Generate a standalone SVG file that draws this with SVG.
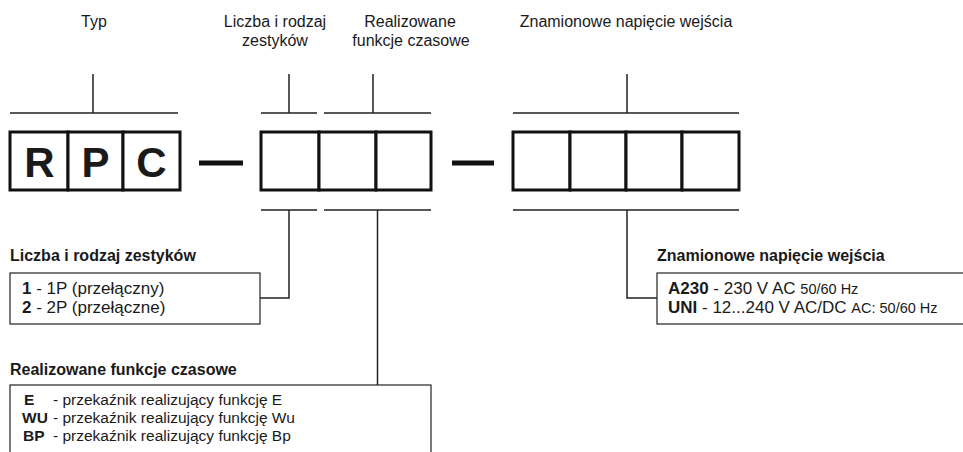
<svg xmlns="http://www.w3.org/2000/svg" width="963" height="452" viewBox="0 0 963 452">
<style>
text{font-family:"Liberation Sans",Arial,sans-serif;fill:#1a1a1a}
.h{font-size:16px;text-anchor:middle}
.t{font-size:16px}
.c{font-size:17px}
.f{font-size:15.5px}
.b{font-weight:bold}
.s{font-size:14.5px}
.big{font-size:42px;font-weight:bold;text-anchor:middle}
.cell{fill:#fff;stroke:#111;stroke-width:3}
.thin{fill:none;stroke:#222;stroke-width:1.5}
.lbl{fill:#fff;stroke:#222;stroke-width:1.2}
.dash{stroke:#111;stroke-width:5}
</style>
<g id="headings">
<text class="h" x="94" y="27">Typ</text>
<text class="h" x="275" y="27">Liczba i rodzaj</text>
<text class="h" x="275" y="46">zestyków</text>
<text class="h" x="410" y="27">Realizowane</text>
<text class="h" x="411" y="46">funkcje czasowe</text>
<text class="h" x="626" y="27">Znamionowe napięcie wejścia</text>
</g>
<g id="type-code">
<rect class="cell" x="10" y="132" width="58" height="58"/>
<rect class="cell" x="68" y="132" width="55" height="58"/>
<rect class="cell" x="123" y="132" width="57" height="58"/>
<text class="big" x="39.5" y="177">R</text>
<text class="big" x="95.5" y="177">P</text>
<text class="big" x="151.5" y="177">C</text>
</g>
<g id="contacts-functions-code">
<rect class="cell" x="261" y="132" width="58" height="58"/>
<rect class="cell" x="319" y="132" width="57" height="58"/>
<rect class="cell" x="376" y="132" width="55" height="58"/>
</g>
<g id="voltage-code">
<rect class="cell" x="513" y="132" width="57" height="58"/>
<rect class="cell" x="570" y="132" width="56" height="58"/>
<rect class="cell" x="626" y="132" width="56" height="58"/>
<rect class="cell" x="682" y="132" width="57" height="58"/>
</g>
<g id="separators">
<line class="dash" x1="199" y1="163" x2="243" y2="163"/>
<line class="dash" x1="452" y1="163" x2="494" y2="163"/>
</g>
<g id="connectors">
<path class="thin" d="M10 113H178M93 74V113"/>
<path class="thin" d="M261 113H317M289 74V113"/>
<path class="thin" d="M324 113H431M373 74V113"/>
<path class="thin" d="M513 113H739M627 74V113"/>
<path class="thin" d="M261 210H317M289 210V298H260"/>
<path class="thin" d="M324 210H431M377.5 210V385"/>
<path class="thin" d="M513 210H739M627 210V298H657"/>
</g>
<g id="legend-contacts">
<text class="t b" x="10" y="261">Liczba i rodzaj zestyków</text>
<rect class="lbl" x="10" y="273" width="250" height="51"/>
<text class="c" x="22" y="294"><tspan class="b">1</tspan> - 1P (przełączny)</text>
<text class="c" x="22" y="313"><tspan class="b">2</tspan> - 2P (przełączne)</text>
</g>
<g id="legend-functions">
<text class="t b" x="10" y="375">Realizowane funkcje czasowe</text>
<rect class="lbl" x="10" y="385" width="421" height="80"/>
<text class="f b" x="24" y="405">E</text>
<text class="f" x="53" y="405">- przekaźnik realizujący funkcję E</text>
<text class="f b" x="22" y="423">WU</text>
<text class="f" x="53" y="423">- przekaźnik realizujący funkcję Wu</text>
<text class="f b" x="23" y="441">BP</text>
<text class="f" x="53" y="441">- przekaźnik realizujący funkcję Bp</text>
</g>
<g id="legend-voltage">
<text class="t b" x="657" y="261">Znamionowe napięcie wejścia</text>
<rect class="lbl" x="657" y="273" width="310" height="51"/>
<text class="c" x="668" y="294"><tspan class="b">A230</tspan> - 230 V AC <tspan class="s">50/60 Hz</tspan></text>
<text class="c" x="668" y="313"><tspan class="b">UNI</tspan> - 12...240 V AC/DC <tspan class="s">AC: 50/60 Hz</tspan></text>
</g>
</svg>
